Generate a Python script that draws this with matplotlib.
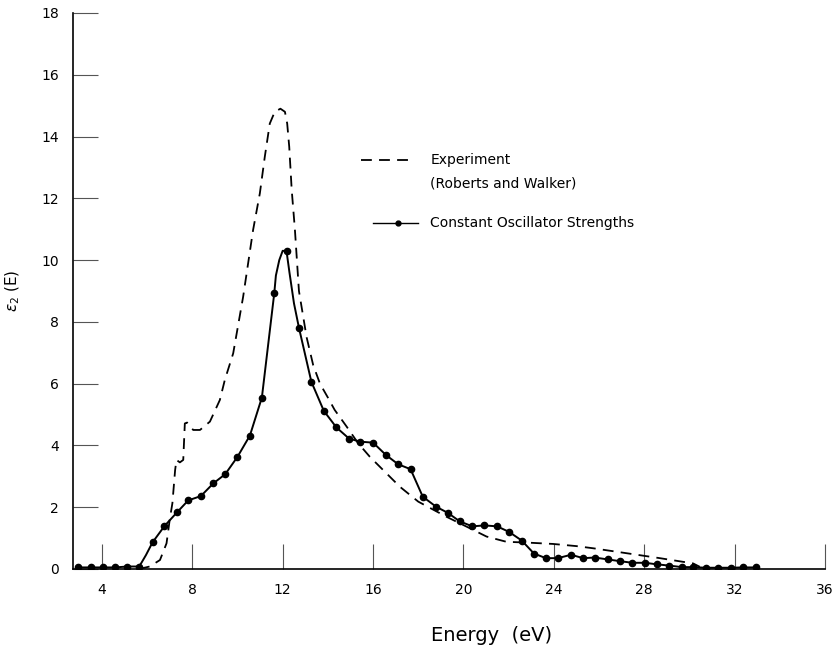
import numpy as np
import matplotlib.pyplot as plt

# Constant oscillator strengths (dots)
calc_x = [2.94, 3.5, 4.04, 4.59, 5.12, 5.64, 6.24, 6.77, 7.32, 7.82, 8.38, 8.93, 9.46,
          10.0, 10.55, 11.08, 11.63, 12.17, 12.72, 13.27, 13.82, 14.38, 14.94, 15.44,
          16.0, 16.57, 17.11, 17.66, 18.2, 18.78, 19.3, 19.84, 20.39, 20.93, 21.49,
          22.02, 22.58, 23.12, 23.65, 24.18, 24.76, 25.3, 25.81, 26.38, 26.95, 27.48,
          28.03, 28.56, 29.1, 29.66, 30.16, 30.73, 31.27, 31.82, 32.35, 32.94]
calc_y = [0.05, 0.05, 0.05, 0.05, 0.08, 0.08, 0.86, 1.39, 1.83, 2.22, 2.36, 2.77, 3.07,
          3.63, 4.32, 5.55, 8.94, 10.29, 7.81, 6.06, 5.12, 4.58, 4.22, 4.12,
          4.09, 3.69, 3.39, 3.23, 2.34, 2.02, 1.82, 1.54, 1.38, 1.41, 1.38,
          1.20, 0.92, 0.50, 0.35, 0.35, 0.46, 0.35, 0.37, 0.31, 0.25, 0.20,
          0.20, 0.15, 0.11, 0.06, 0.06, 0.04, 0.04, 0.04, 0.05, 0.05]

# extra points (no dots)
curve_x = [5.75, 5.95, 11.7, 11.85, 12.0, 12.3, 12.5]
curve_y = [0.2, 0.45, 9.5, 10.0, 10.3, 9.6, 8.6]

# Experiment (Roberts and Walker), dashed
exp_x = [5.64, 6.12, 6.57, 6.86, 7.0, 7.12, 7.24, 7.3, 7.45, 7.6, 7.67, 7.77, 8.04,
         8.34, 8.78, 9.22, 9.44, 9.81, 10.25, 10.69, 10.99, 11.21, 11.43, 11.65, 11.9,
         12.1, 12.2, 12.29, 12.4, 12.54, 12.72, 13.06, 13.35, 13.65, 14.0, 14.3, 14.83,
         15.34, 15.86, 16.45, 17.19, 18.0, 19.25, 20.14, 21.02, 21.9, 22.93, 23.97,
         25.0, 25.74, 27.22, 28.69, 30.16, 30.46]
exp_y = [0.0, 0.08, 0.29, 0.83, 1.59, 2.13, 3.2, 3.53, 3.45, 3.53, 4.71, 4.74, 4.5,
         4.5, 4.77, 5.47, 6.12, 6.98, 8.81, 10.97, 12.16, 13.35, 14.42, 14.8, 14.9,
         14.8, 14.42, 13.67, 12.27, 11.0, 9.0, 7.5, 6.6, 6.0, 5.55, 5.15, 4.61,
         4.07, 3.63, 3.2, 2.66, 2.18, 1.69, 1.37, 1.05, 0.88, 0.85, 0.81,
         0.74, 0.67, 0.51, 0.35, 0.18, 0.07]

x_ticks = [4, 8, 12, 16, 20, 24, 28, 32, 36]
y_ticks = [0, 2, 4, 6, 8, 10, 12, 14, 16, 18]

fig = plt.figure(figsize=(8.34, 6.47), dpi=100)
ax = fig.add_axes([0.0875, 0.1206, 0.9017, 0.8594])

# solid line through dots plus curve points
line_pts = sorted(zip(calc_x + curve_x, calc_y + curve_y))
ax.plot([p[0] for p in line_pts], [p[1] for p in line_pts], color='black', lw=1.4)
ax.plot(calc_x, calc_y, 'o', color='black', ms=4.5)
ax.plot(exp_x, exp_y, color='black', lw=1.3, dashes=(6, 4))

ax.set_xlim(2.72, 36)
ax.set_ylim(0, 18)
ax.set_xticks(x_ticks)
ax.set_yticks(y_ticks)
ax.spines['top'].set_visible(False)
ax.spines['right'].set_visible(False)
ax.spines['left'].set_linewidth(1.2)
ax.spines['bottom'].set_linewidth(1.2)
ax.tick_params(direction='in', length=18, width=0.8, labelsize=10, color='#555555')
ax.tick_params(axis='x', pad=10)
ax.tick_params(axis='y', pad=10)

# x label placed on the figure, right of centre like the original
fig.text(0.59, 0.0185, 'Energy  (eV)', fontsize=14, ha='center', va='center')
ax.set_ylabel(r'$\epsilon_2$ (E)', fontsize=11, labelpad=14)

# legend drawn by hand
ax.plot([0.383, 0.448], [0.7356, 0.7356], transform=ax.transAxes, color='black',
        lw=1.3, dashes=(6, 4), clip_on=False)
ax.text(0.475, 0.7356, 'Experiment', transform=ax.transAxes, fontsize=10, va='center')
ax.text(0.475, 0.694, '(Roberts and Walker)', transform=ax.transAxes, fontsize=10,
        va='center')
ax.plot([0.399, 0.459], [0.622, 0.622], transform=ax.transAxes,
        color='black', lw=1.0, clip_on=False)
ax.plot([0.432], [0.622], 'o', transform=ax.transAxes, color='black', ms=3.5,
        clip_on=False)
ax.text(0.475, 0.622, 'Constant Oscillator Strengths', transform=ax.transAxes,
        fontsize=10, va='center')

fig.savefig('out.png', dpi=100)
